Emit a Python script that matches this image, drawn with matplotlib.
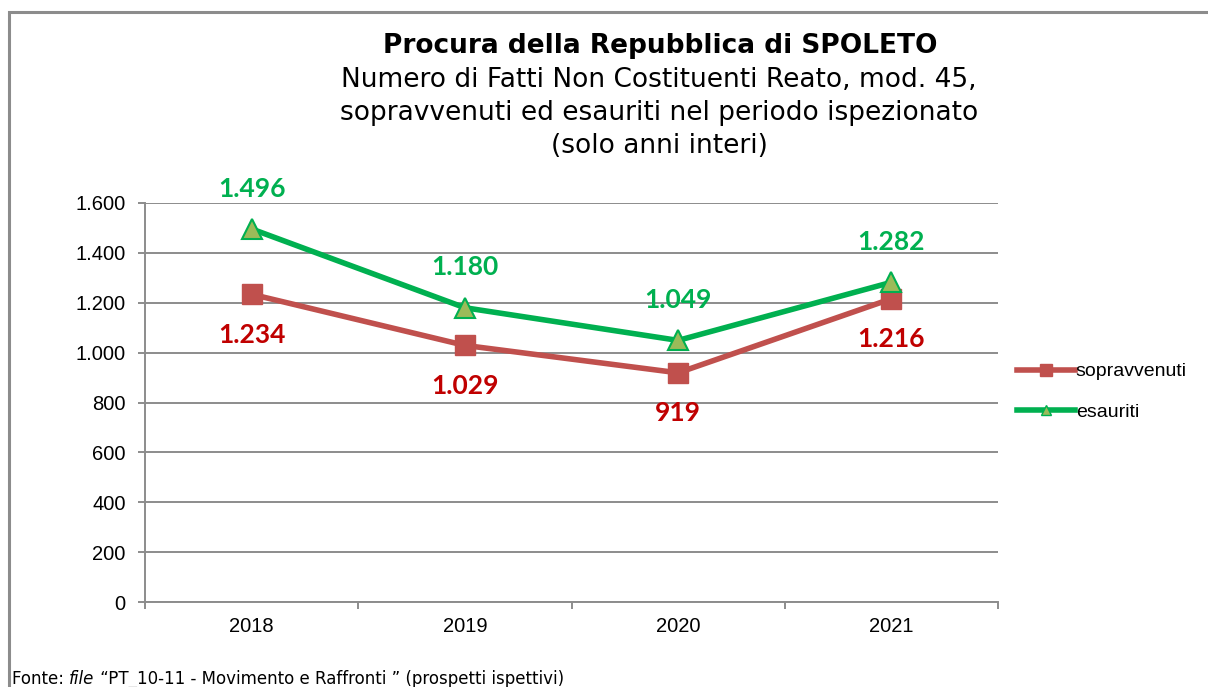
import numpy as np
import matplotlib.pyplot as plt
from matplotlib.lines import Line2D
from matplotlib.patches import Rectangle

anni = ['2018', '2019', '2020', '2021']
sopravvenuti = [1234, 1029, 919, 1216]
esauriti = [1496, 1180, 1049, 1282]
y_ticks = [0, 200, 400, 600, 800, 1000, 1200, 1400, 1600]

ROSSO = '#C0504D'
ROSSO_TXT = '#C00000'
VERDE = '#00B050'
VERDE_CHIARO = '#9BBB59'
GRIGIO = '#8C8C8C'


def fmt(v):
    # separatore delle migliaia all'italiana
    return f'{v:,}'.replace(',', '.')


W, H = 1208, 687
fig = plt.figure(figsize=(W / 100, H / 100), dpi=100)

# cornice esterna
fig.add_artist(Rectangle((9 / W, -0.1), 1.2, (H - 12) / H + 0.1, transform=fig.transFigure,
                         fill=False, edgecolor=GRIGIO, lw=2.2))

ax = fig.add_axes([145 / W, 1 - 602 / H, (998 - 145) / W, (602 - 203) / H])
x = np.arange(len(anni))

ax.set_xlim(-0.5, len(anni) - 0.5)
ax.set_ylim(0, 1600)
ax.set_yticks(y_ticks)
ax.set_yticklabels([fmt(v) for v in y_ticks], family='Liberation Sans', fontsize=14.5)
ax.yaxis.grid(True, color=GRIGIO, lw=1.4)
ax.set_axisbelow(True)
for s in ['top', 'right']:
    ax.spines[s].set_visible(False)
for s in ['left', 'bottom']:
    ax.spines[s].set_color(GRIGIO)
    ax.spines[s].set_linewidth(1.4)
ax.tick_params(axis='y', length=5, width=1.4, color=GRIGIO, pad=9)
ax.set_xticks(np.arange(len(anni) + 1) - 0.5)
ax.set_xticklabels([])
ax.set_xticks(x, minor=True)
ax.set_xticklabels(anni, minor=True, family='Liberation Sans', fontsize=14.5)
ax.tick_params(axis='x', which='major', length=5, width=1.4, color=GRIGIO)
ax.tick_params(axis='x', which='minor', length=0, pad=11)

ax.plot(x, sopravvenuti, color=ROSSO, lw=4, marker='s', ms=15,
        markerfacecolor=ROSSO, markeredgecolor=ROSSO, zorder=3)
ax.plot(x, esauriti, color=VERDE, lw=4, marker='^', ms=15,
        markerfacecolor=VERDE_CHIARO, markeredgecolor=VERDE, markeredgewidth=1.5, zorder=4)

for xi, v in zip(x, sopravvenuti):
    ax.annotate(fmt(v), (xi, v), xytext=(0, -29), textcoords='offset points',
                ha='center', va='center', color=ROSSO_TXT, fontsize=19,
                family='Lato', weight='bold')
for xi, v in zip(x, esauriti):
    ax.annotate(fmt(v), (xi, v), xytext=(0, 29), textcoords='offset points',
                ha='center', va='center', color=VERDE, fontsize=19,
                family='Lato', weight='bold')

# titolo
fig.text(660 / W, 1 - 46 / H, 'Procura della Repubblica di SPOLETO', ha='center', va='center',
         fontsize=19, weight='bold', family='DejaVu Sans')
sottotitolo = ['Numero di Fatti Non Costituenti Reato, mod. 45,',
               'sopravvenuti ed esauriti nel periodo ispezionato',
               '(solo anni interi)']
for i, riga in enumerate(sottotitolo):
    fig.text(659 / W, 1 - (80 + 33 * i) / H, riga, ha='center', va='center',
             fontsize=19, family='DejaVu Sans')

# legenda
handles = [Line2D([], [], color=ROSSO, lw=4, marker='s', ms=8, markerfacecolor=ROSSO),
           Line2D([], [], color=VERDE, lw=4, marker='^', ms=7,
                  markerfacecolor=VERDE_CHIARO, markeredgecolor=VERDE)]
fig.legend(handles, ['sopravvenuti', 'esauriti'], loc='center left',
           bbox_to_anchor=(999 / W, 1 - 392 / H), frameon=False, handlelength=3.0,
           handletextpad=0.05, labelspacing=1.2, prop={'family': 'Liberation Sans', 'size': 14})

# fonte, con "file" in corsivo
fig.canvas.draw()
r = fig.canvas.get_renderer()
xpos = 12 / W
for testo, stile in [('Fonte: ', 'normal'), ('file', 'italic'),
                     (' \u201cPT_10-11 - Movimento e Raffronti \u201d (prospetti ispettivi)', 'normal')]:
    t = fig.text(xpos, 1 - 679 / H, testo, ha='left', va='center', fontsize=12,
                 family='DejaVu Sans', style=stile)
    xpos += t.get_window_extent(r).width / W

fig.savefig('out.png', dpi=100)
